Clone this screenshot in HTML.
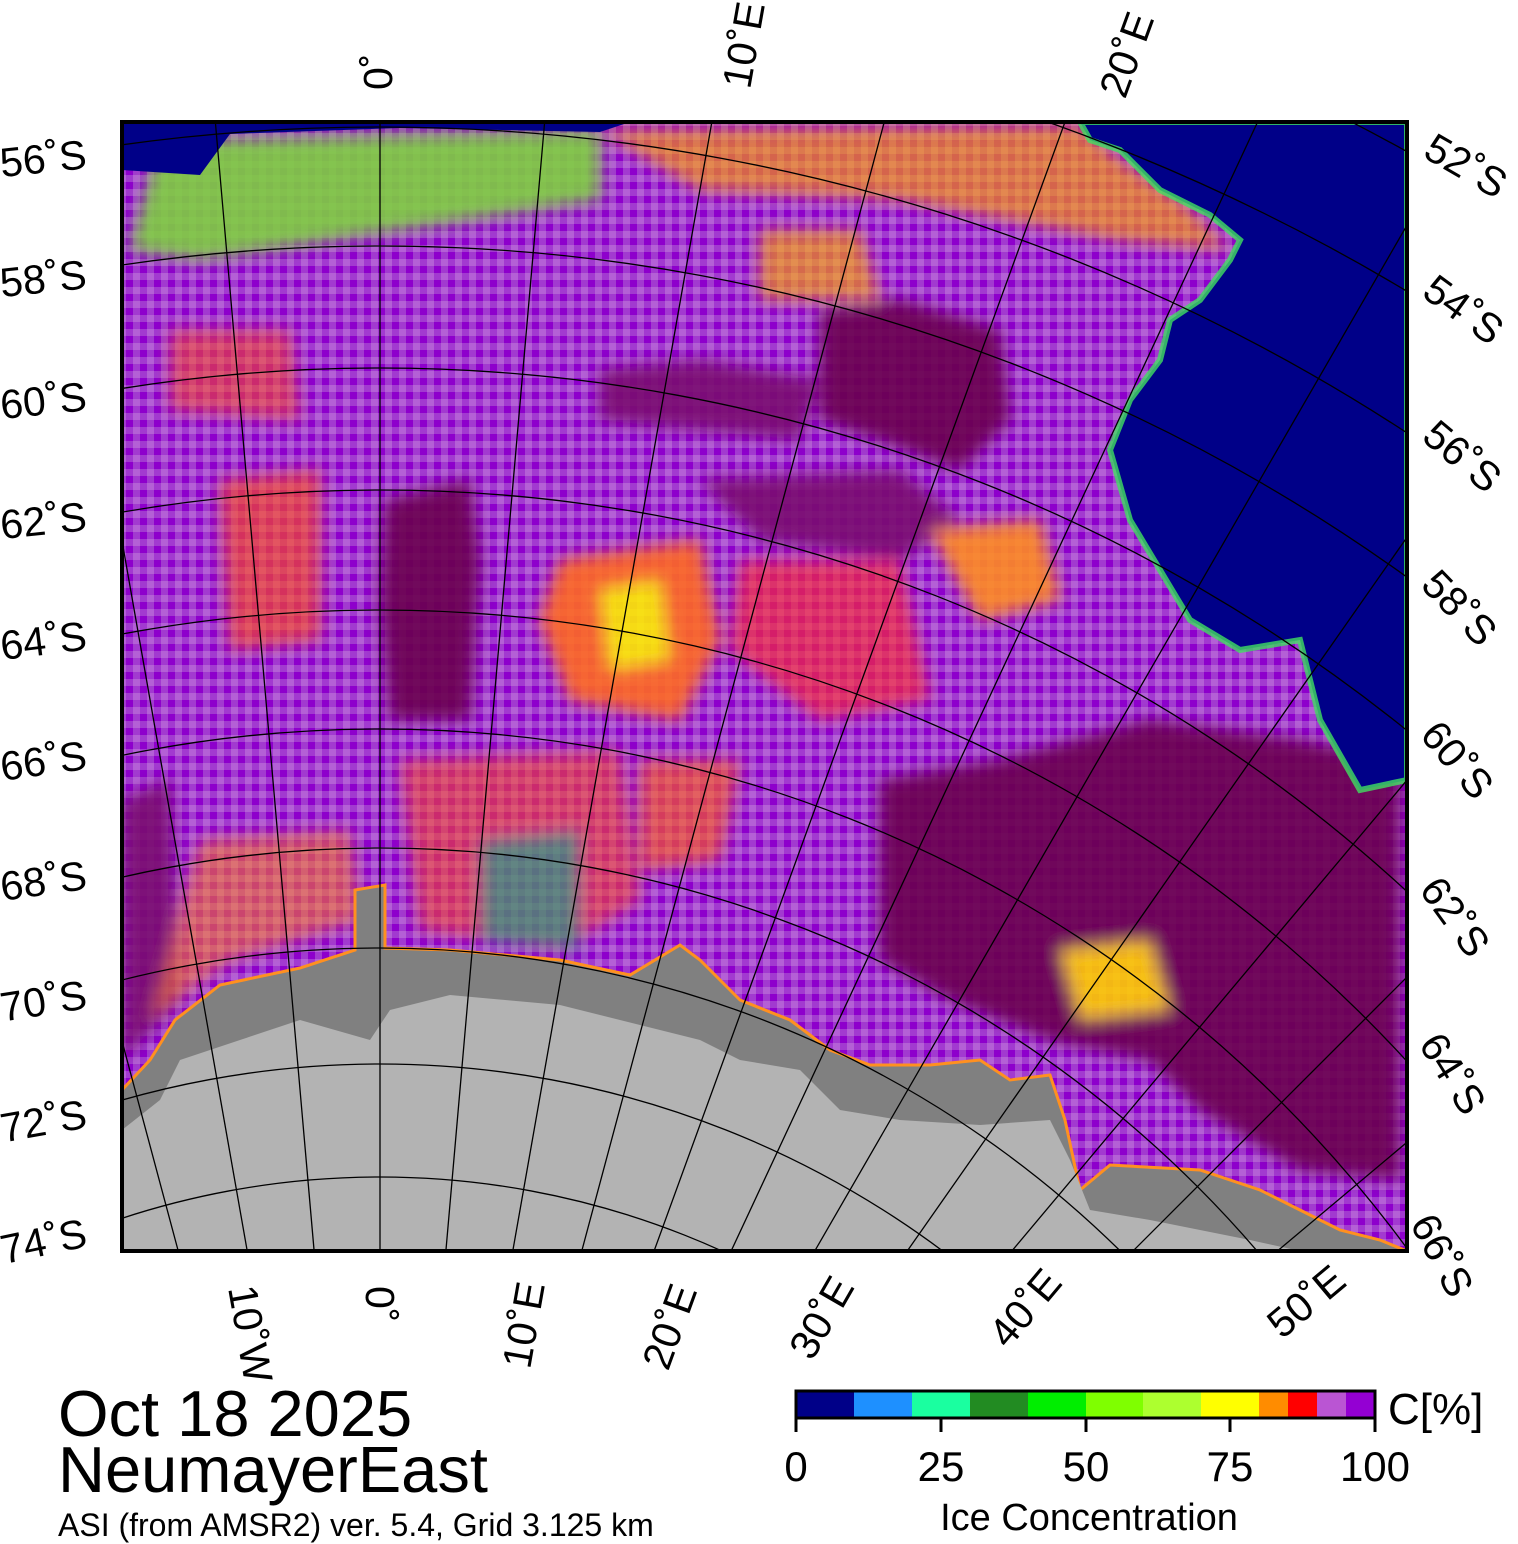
<!DOCTYPE html>
<html><head><meta charset="utf-8"><style>
html,body{margin:0;padding:0;background:#fff;overflow:hidden;width:1518px;height:1544px}
svg{display:block}
text{font-family:"Liberation Sans",sans-serif;fill:#000}
</style></head><body>
<svg width="1518" height="1544" viewBox="0 0 1518 1544" xmlns="http://www.w3.org/2000/svg">
<defs>
<clipPath id="c"><rect x="122" y="122" width="1285" height="1129"/></clipPath>
<pattern id="p" width="14" height="14" patternUnits="userSpaceOnUse">
<rect width="14" height="14" fill="#a23ad0"/>
<rect x="0" y="0" width="7" height="7" fill="#8e00cc"/>
<rect x="7" y="7" width="7" height="7" fill="#b460d6"/>
</pattern>
<filter id="b"><feGaussianBlur stdDeviation="8"/></filter>
</defs>
<g clip-path="url(#c)">
<rect x="122" y="122" width="1285" height="1129" fill="url(#p)"/>
<g filter="url(#b)" opacity="0.9">
<path d="M820,310 L900,300 L1000,330 L1010,420 L960,470 L880,440 L820,420 Z" fill="#6a0050"/>
<path d="M385,500 L470,480 L480,560 L470,720 L390,720 L380,600 Z" fill="#6a0050"/>
<path d="M600,370 L700,360 L820,380 L800,440 L700,430 L600,420 Z" fill="#7a1070"/>
<path d="M880,780 L1000,760 L1150,720 L1300,740 L1400,760 L1400,1180 L1300,1170 L1200,1110 L1150,1060 L1050,1040 L950,1000 L880,960 Z" fill="#6a0050"/>
<path d="M700,480 L900,470 L960,520 L900,560 L760,540 Z" fill="#7a1070"/>
<path d="M122,800 L170,780 L180,1000 L122,1060 Z" fill="#7a1070"/>
<path d="M560,560 L700,540 L720,640 L680,720 L570,700 L540,620 Z" fill="#ff6a20"/>
<path d="M600,590 L660,580 L670,660 L610,670 Z" fill="#ffee00"/>
<path d="M930,530 L1040,520 L1060,600 L980,620 Z" fill="#ff8c20"/>
<path d="M1060,950 L1150,940 L1170,1010 L1080,1020 Z" fill="#ffcc00"/>
<path d="M740,560 L900,560 L930,700 L820,720 L730,650 Z" fill="#ff3030" opacity="0.7"/>
<path d="M220,480 L320,470 L320,640 L230,650 Z" fill="#ff5020" opacity="0.7"/>
<path d="M170,330 L290,330 L300,420 L170,410 Z" fill="#ff5020" opacity="0.6"/>
<path d="M760,230 L860,230 L880,300 L760,300 Z" fill="#ffaa00" opacity="0.7"/>
<path d="M160,140 L600,130 L600,200 L400,230 L200,260 L130,250 Z" fill="#7fd040"/>
<path d="M600,130 L1080,125 L1120,160 L1180,200 L1230,250 L1120,240 L900,200 L700,190 Z" fill="#ffa000" opacity="0.7"/>
<path d="M400,760 L620,750 L640,900 L560,950 L420,930 Z" fill="#ff5020" opacity="0.6"/>
<path d="M480,840 L580,830 L580,950 L480,940 Z" fill="#20a080" opacity="0.7"/>
<path d="M200,840 L350,830 L360,920 L230,960 L150,1020 Z" fill="#ff8020" opacity="0.6"/>
<path d="M640,760 L740,760 L720,860 L640,870 Z" fill="#ff6020" opacity="0.7"/>
</g>
<path d="M1080,122 L1407,122 L1407,780 L1360,790 L1320,720 L1300,640 L1240,650 L1190,620 L1160,570 L1130,520 L1110,450 L1130,400 L1160,360 L1170,320 L1200,300 L1230,260 L1240,240 L1210,215 L1160,190 L1120,150 L1090,140 Z" fill="#000088" stroke="#40e060" stroke-width="6" stroke-opacity="0.8"/>
<path d="M122,122 L630,122 L600,132 L400,128 L230,134 L200,175 L122,170 Z" fill="#000088"/>
<path d="M122,1090 L150,1060 L175,1020 L220,985 L300,968 L355,950 L355,890 L385,885 L385,948 L450,950 L560,960 L630,975 L680,945 L700,960 L740,1000 L790,1020 L830,1050 L870,1065 L930,1065 L980,1060 L1010,1080 L1050,1075 L1065,1120 L1080,1190 L1110,1165 L1200,1170 L1260,1190 L1300,1210 L1340,1230 L1380,1240 L1407,1251 L122,1251 Z" fill="#808080" stroke="#ff9020" stroke-width="3"/>
<path d="M122,1130 L160,1100 L180,1060 L240,1040 L300,1020 L370,1040 L390,1010 L450,995 L560,1005 L620,1020 L700,1040 L740,1060 L800,1070 L840,1110 L900,1120 L980,1125 L1050,1120 L1070,1160 L1090,1210 L1150,1220 L1250,1240 L1300,1251 L122,1251 Z" fill="#b3b3b3"/>
<g fill="none" stroke="#000" stroke-width="1.3">
<circle cx="380" cy="2004" r="2118"/><circle cx="380" cy="2004" r="1997"/>
<circle cx="380" cy="2004" r="1877"/><circle cx="380" cy="2004" r="1758"/>
<circle cx="380" cy="2004" r="1636"/><circle cx="380" cy="2004" r="1514"/>
<circle cx="380" cy="2004" r="1394"/><circle cx="380" cy="2004" r="1275"/>
<circle cx="380" cy="2004" r="1156"/><circle cx="380" cy="2004" r="1056"/>
<circle cx="380" cy="2004" r="940"/><circle cx="380" cy="2004" r="827"/>
<g transform="translate(380,2004)">
<line x1="0" y1="0" x2="0" y2="-2300" transform="rotate(-15)"/>
<line x1="0" y1="0" x2="0" y2="-2300" transform="rotate(-10)"/>
<line x1="0" y1="0" x2="0" y2="-2300" transform="rotate(-5)"/>
<line x1="0" y1="0" x2="0" y2="-2300"/>
<line x1="0" y1="0" x2="0" y2="-2300" transform="rotate(5)"/>
<line x1="0" y1="0" x2="0" y2="-2300" transform="rotate(10)"/>
<line x1="0" y1="0" x2="0" y2="-2300" transform="rotate(15)"/>
<line x1="0" y1="0" x2="0" y2="-2300" transform="rotate(20)"/>
<line x1="0" y1="0" x2="0" y2="-2300" transform="rotate(25)"/>
<line x1="0" y1="0" x2="0" y2="-2300" transform="rotate(30)"/>
<line x1="0" y1="0" x2="0" y2="-2300" transform="rotate(35)"/>
<line x1="0" y1="0" x2="0" y2="-2300" transform="rotate(40)"/>
<line x1="0" y1="0" x2="0" y2="-2300" transform="rotate(45)"/>
<line x1="0" y1="0" x2="0" y2="-2300" transform="rotate(50)"/>
<line x1="0" y1="0" x2="0" y2="-2300" transform="rotate(55)"/>
</g></g>
</g>
<rect x="122" y="122" width="1285" height="1129" fill="none" stroke="#000" stroke-width="4"/>
<g font-size="41">
<text x="0" y="172" transform="rotate(-6 50 160)">56˚S</text>
<text x="0" y="292" transform="rotate(-6 50 280)">58˚S</text>
<text x="0" y="414" transform="rotate(-6 50 400)">60˚S</text>
<text x="0" y="534" transform="rotate(-6 50 520)">62˚S</text>
<text x="0" y="654" transform="rotate(-7 50 640)">64˚S</text>
<text x="0" y="774" transform="rotate(-8 50 760)">66˚S</text>
<text x="0" y="894" transform="rotate(-8 50 880)">68˚S</text>
<text x="0" y="1014" transform="rotate(-9 50 1000)">70˚S</text>
<text x="0" y="1134" transform="rotate(-10 50 1120)">72˚S</text>
<text x="0" y="1254" transform="rotate(-12 50 1240)">74˚S</text>
</g>
<g font-size="41">
<text x="1428" y="158" transform="rotate(30 1428 145)">52˚S</text>
<text x="1428" y="298" transform="rotate(36 1428 285)">54˚S</text>
<text x="1428" y="442" transform="rotate(40 1428 430)">56˚S</text>
<text x="1428" y="590" transform="rotate(46 1428 578)">58˚S</text>
<text x="1428" y="740" transform="rotate(50 1428 728)">60˚S</text>
<text x="1428" y="895" transform="rotate(54 1428 883)">62˚S</text>
<text x="1428" y="1050" transform="rotate(58 1428 1038)">64˚S</text>
<text x="1420" y="1230" transform="rotate(62 1420 1218)">66˚S</text>
</g>
<g font-size="41">
<text x="392" y="90" transform="rotate(-90 392 90)">0˚</text>
<text x="750" y="90" transform="rotate(-80 750 90)">10˚E</text>
<text x="1125" y="100" transform="rotate(-70 1125 100)">20˚E</text>
</g>
<g font-size="41">
<text x="228" y="1288" transform="rotate(80 228 1288)">10˚W</text>
<text x="366" y="1286" transform="rotate(90 366 1286)">0˚</text>
<text x="530" y="1370" transform="rotate(-80 530 1370)">10˚E</text>
<text x="668" y="1372" transform="rotate(-70 668 1372)">20˚E</text>
<text x="812" y="1362" transform="rotate(-60 812 1362)">30˚E</text>
<text x="1008" y="1350" transform="rotate(-50 1008 1350)">40˚E</text>
<text x="1282" y="1340" transform="rotate(-40 1282 1340)">50˚E</text>
</g>
<text x="58" y="1436" font-size="65">Oct 18 2025</text>
<text x="58" y="1492" font-size="65">NeumayerEast</text>
<text x="58" y="1536" font-size="32">ASI (from AMSR2) ver. 5.4,  Grid 3.125 km</text>
<rect x="796" y="1391" width="58" height="27" fill="#000088"/>
<rect x="854" y="1391" width="58" height="27" fill="#1e90ff"/>
<rect x="912" y="1391" width="58" height="27" fill="#1affa0"/>
<rect x="970" y="1391" width="58" height="27" fill="#228b22"/>
<rect x="1028" y="1391" width="58" height="27" fill="#00ee00"/>
<rect x="1086" y="1391" width="57" height="27" fill="#7fff00"/>
<rect x="1143" y="1391" width="58" height="27" fill="#adff2f"/>
<rect x="1201" y="1391" width="58" height="27" fill="#ffff00"/>
<rect x="1259" y="1391" width="29" height="27" fill="#ff8c00"/>
<rect x="1288" y="1391" width="29" height="27" fill="#ff0000"/>
<rect x="1317" y="1391" width="29" height="27" fill="#ba55d3"/>
<rect x="1346" y="1391" width="29" height="27" fill="#9400d3"/>
<rect x="796" y="1391" width="579" height="27" fill="none" stroke="#000" stroke-width="3"/>
<g stroke="#000" stroke-width="3"><line x1="796" y1="1418" x2="796" y2="1432"/><line x1="941" y1="1418" x2="941" y2="1432"/><line x1="1086" y1="1418" x2="1086" y2="1432"/><line x1="1230" y1="1418" x2="1230" y2="1432"/><line x1="1375" y1="1418" x2="1375" y2="1432"/></g>
<g font-size="42" text-anchor="middle">
<text x="796" y="1481">0</text><text x="941" y="1481">25</text><text x="1086" y="1481">50</text><text x="1230" y="1481">75</text><text x="1375" y="1481">100</text>
</g>
<text x="1089" y="1530" font-size="38" text-anchor="middle">Ice Concentration</text>
<text x="1388" y="1424" font-size="44">C[%]</text>
</svg>
</body></html>
